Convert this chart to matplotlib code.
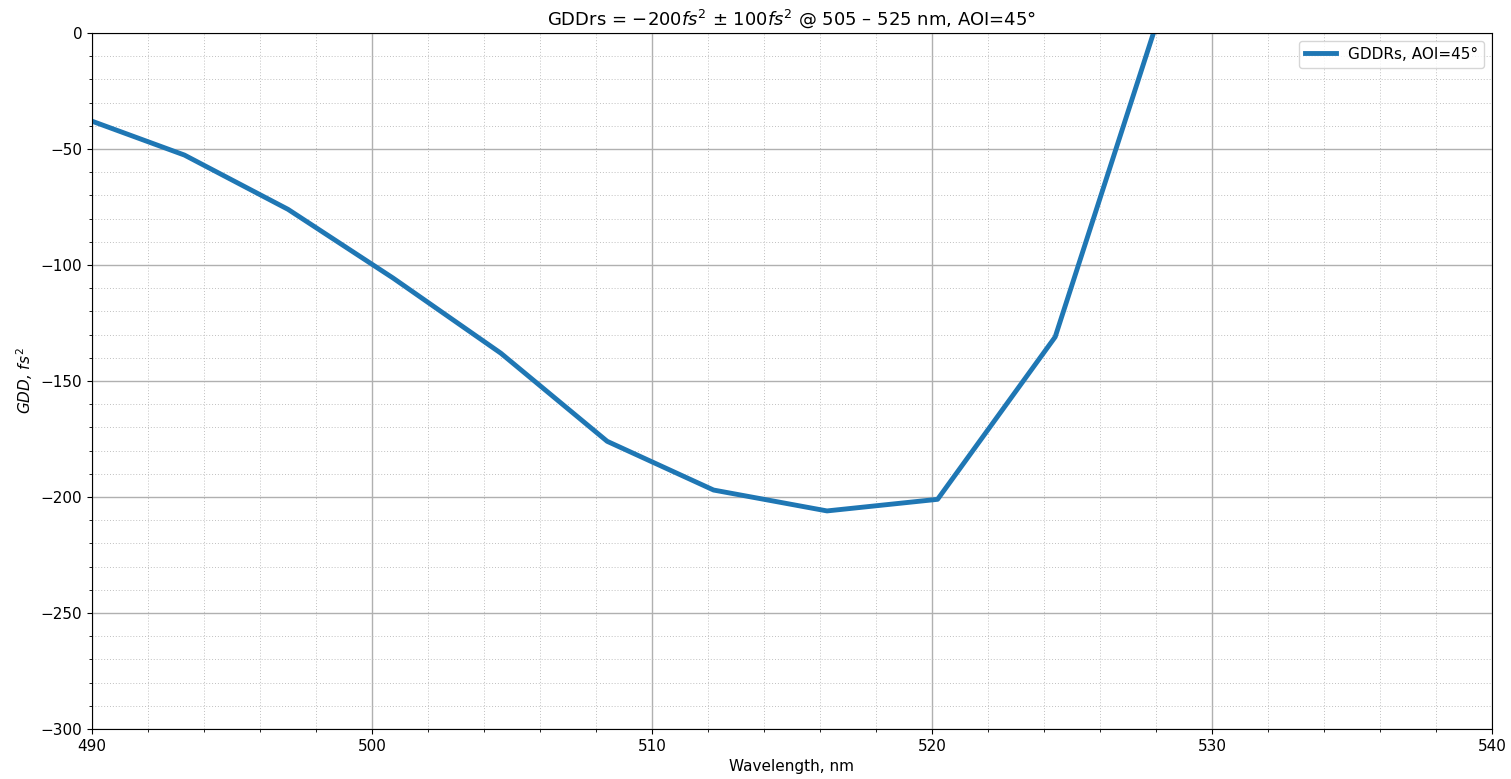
import numpy as np
import matplotlib.pyplot as plt
from matplotlib.ticker import MultipleLocator

# GDD curve (wavelength in nm, GDD in fs^2)
wavelength = [490.0, 493.3, 497.0, 500.75, 504.6, 508.4, 512.2, 516.25, 520.2, 524.4, 528.5]
gdd        = [-38.0, -52.6, -76.0, -105.6, -138.0, -176.0, -197.0, -206.0, -201.0, -131.0, 22.0]

fig = plt.figure(figsize=(15.11, 7.79), dpi=100)
ax = fig.add_axes([0.0609, 0.0642, 0.9265, 0.8934])

ax.plot(wavelength, gdd, lw=3.5, color="#1f77b4", label="GDDRs, AOI=45°")

ax.set_xlim(490, 540)
ax.set_ylim(-300, 0)
ax.xaxis.set_major_locator(MultipleLocator(10))
ax.xaxis.set_minor_locator(MultipleLocator(2))
ax.yaxis.set_major_locator(MultipleLocator(50))
ax.yaxis.set_minor_locator(MultipleLocator(10))
ax.tick_params(labelsize=11)

ax.grid(True, which="major", color="#b0b0b0", lw=1.0)
ax.grid(True, which="minor", color="#c0c0c0", lw=0.7, ls=(0, (1, 2)))

ax.set_title(r"GDDrs = $-200fs^2$ ± $100fs^2$ @ 505 – 525 nm, AOI=45°", fontsize=13)
ax.set_xlabel("Wavelength, nm", fontsize=11)
ax.set_ylabel(r"$GDD$, $fs^2$", fontsize=11, style="italic")
ax.legend(loc="upper right", fontsize=11)

plt.savefig("out.png", dpi=100)
